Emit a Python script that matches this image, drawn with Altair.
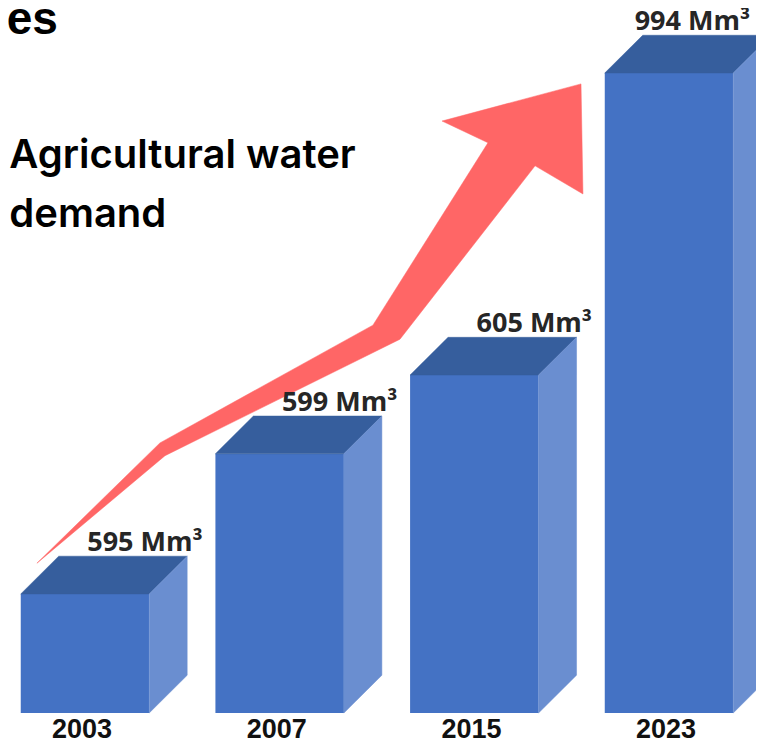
import altair as alt
import pandas as pd

# ---- data ----
years = ["2003", "2007", "2015", "2023"]
values_mm3 = [595, 599, 605, 994]
# drawn (schematic) bar heights, relative to the tallest bar
bar_level = [0.186, 0.405, 0.528, 1.0]
label_unit = "Mm³"

# arrow outline in chart units (slot, relative level)
arrow_x = [-0.247, 0.385, 1.479, 2.070, 1.834, 2.548, 2.558, 2.312, 1.618, 0.411, -0.247]
arrow_y = [0.234, 0.422, 0.606, 0.891, 0.925, 0.983, 0.811, 0.855, 0.584, 0.402, 0.234]

title_tail = "es"
subtitle_lines = ["Agricultural water", "demand"]

# ---- styling / geometry constants ----
HALF = 0.33   # half width of the front face (slot units)
DX = 0.195    # 3D depth, horizontal
DY = 0.059    # 3D depth, vertical
X_DOMAIN = [-0.3955, 3.4469]
Y_DOMAIN = [-0.0469, 1.1016]
C_FRONT = "#4472C4"
C_TOP = "#365E9D"
C_SIDE = "#6A8ED0"
C_ARROW = "#FF6666"

bars = pd.DataFrame({"year": years, "slot": list(range(len(years))),
                     "level": bar_level, "value": values_mm3})
bars["x0"] = bars["slot"] - HALF
bars["x1"] = bars["slot"] + HALF
bars["base"] = 0.0
bars["label"] = [f"{v} {label_unit}" for v in values_mm3]
bars["lx"] = (bars["slot"] + HALF + DX + 0.08).clip(upper=X_DOMAIN[1] - 0.03)
bars["ly"] = bars["level"] + DY + 0.008
bars["yx"] = bars["slot"] - 0.015
bars["yy"] = -0.039

top_rows, side_rows = [], []
for _, r in bars.iterrows():
    pts_top = [(r.x0, r.level), (r.x1, r.level), (r.x1 + DX, r.level + DY),
               (r.x0 + DX, r.level + DY), (r.x0, r.level)]
    pts_side = [(r.x1, 0.0), (r.x1 + DX, DY), (r.x1 + DX, r.level + DY),
                (r.x1, r.level), (r.x1, 0.0)]
    for k, (x, y) in enumerate(pts_top):
        top_rows.append({"year": r.year, "k": k, "x": x, "y": y})
    for k, (x, y) in enumerate(pts_side):
        side_rows.append({"year": r.year, "k": k, "x": x, "y": y})
top_df = pd.DataFrame(top_rows)
side_df = pd.DataFrame(side_rows)
arrow_df = pd.DataFrame({"k": list(range(len(arrow_x))), "x": arrow_x, "y": arrow_y})

xs = alt.Scale(domain=X_DOMAIN, nice=False, zero=False)
ys = alt.Scale(domain=Y_DOMAIN, nice=False, zero=False)

arrow = alt.Chart(arrow_df).mark_line(
    fill=C_ARROW, stroke=C_ARROW, strokeWidth=0.5, interpolate="linear"
).encode(
    x=alt.X("x:Q", scale=xs, axis=None),
    y=alt.Y("y:Q", scale=ys, axis=None),
    order=alt.Order("k:Q"),
)

front = alt.Chart(bars).mark_rect(color=C_FRONT).encode(
    x=alt.X("x0:Q", scale=xs, axis=None), x2="x1",
    y=alt.Y("base:Q", scale=ys, axis=None), y2="level",
)

top = alt.Chart(top_df).mark_line(
    fill=C_TOP, stroke=C_TOP, strokeWidth=0.5, interpolate="linear"
).encode(
    x=alt.X("x:Q", scale=xs, axis=None),
    y=alt.Y("y:Q", scale=ys, axis=None),
    detail="year:N",
    order=alt.Order("k:Q"),
)

side = alt.Chart(side_df).mark_line(
    fill=C_SIDE, stroke=C_SIDE, strokeWidth=0.5, interpolate="linear"
).encode(
    x=alt.X("x:Q", scale=xs, axis=None),
    y=alt.Y("y:Q", scale=ys, axis=None),
    detail="year:N",
    order=alt.Order("k:Q"),
)

value_labels = alt.Chart(bars).mark_text(
    font="Open Sans", fontWeight="bold", fontSize=27, color="#262626",
    align="right", baseline="alphabetic",
).encode(
    x=alt.X("lx:Q", scale=xs, axis=None),
    y=alt.Y("ly:Q", scale=ys, axis=None),
    text="label:N",
)

year_labels = alt.Chart(bars).mark_text(
    font="Liberation Sans", fontWeight="bold", fontSize=27, color="#111111",
    align="center", baseline="alphabetic",
).encode(
    x=alt.X("yx:Q", scale=xs, axis=None),
    y=alt.Y("yy:Q", scale=ys, axis=None),
    text="year:N",
)

title_txt = alt.Chart(pd.DataFrame({"t": [title_tail]})).mark_text(
    font="Liberation Sans", fontWeight="bold", fontSize=46, color="#000000",
    align="right", baseline="alphabetic",
).encode(
    x=alt.X(datum=-0.139, scale=xs, axis=None),
    y=alt.Y(datum=1.061, scale=ys, axis=None),
    text="t:N",
)

subtitle = alt.Chart(pd.DataFrame({"t": [0]})).mark_text(
    font="Inter", fontWeight=600, fontSize=40, color="#000000",
    align="left", baseline="alphabetic", lineHeight=59,
).encode(
    x=alt.X(datum=-0.389, scale=xs, axis=None),
    y=alt.Y(datum=0.8516, scale=ys, axis=None),
    text=alt.value(subtitle_lines),
)

chart = alt.layer(
    arrow, front, top, side, value_labels, year_labels, title_txt, subtitle
).properties(
    width=748, height=735, padding=0, autosize="none"
).configure_view(stroke=None)

chart.save("out.html", embed_options={"renderer": "svg", "actions": False})
